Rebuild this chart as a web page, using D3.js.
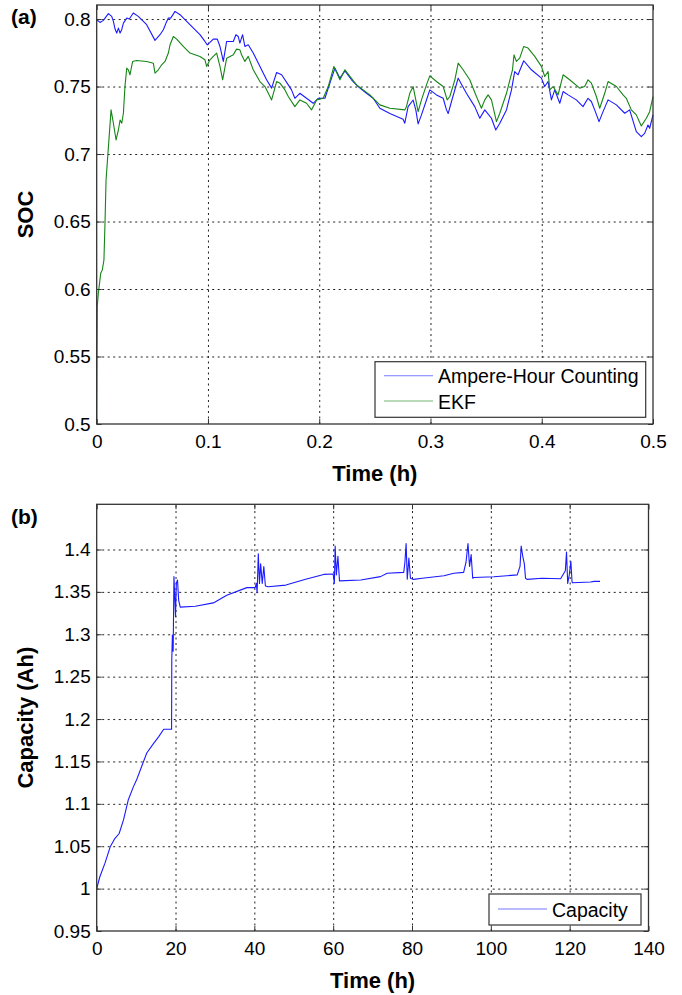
<!DOCTYPE html>
<html>
<head>
<meta charset="utf-8">
<script src="https://cdn.jsdelivr.net/npm/d3@7/dist/d3.min.js"></script>
<style>
  html, body { margin: 0; padding: 0; background: #fff; }
  svg { display: block; font-family: "Liberation Sans", Arial, Helvetica, sans-serif; }
  .grid line { stroke: #222; stroke-dasharray: 2,3.5; stroke-width: 1; }
  .grid path { display: none; }
  .ax path { display: none; }
  .ax line { stroke: #333; }
</style>
</head>
<body>
<svg id="fig" width="682" height="995"></svg>
<script>
// ---- panel (a): SOC estimation ----
const socTicksX = [0, 0.1, 0.2, 0.3, 0.4, 0.5];
const socTicksY = [0.5, 0.55, 0.6, 0.65, 0.7, 0.75, 0.8];

const ahTime = [0,0.003,0.006,0.0105,0.0135,0.015,0.0165,0.018,0.0195,0.021,0.0225,0.024,0.027,0.0293,0.0329,0.0374,0.0449,0.0524,0.0569,0.0599,0.0623,0.0644,0.0665,0.0704,0.0749,0.0838,0.0928,0.0973,0.0994,0.1018,0.1048,0.1084,0.1108,0.1138,0.1168,0.1228,0.1251,0.1272,0.1287,0.1311,0.1332,0.1362,0.1407,0.1482,0.1527,0.1572,0.1617,0.1662,0.1722,0.1751,0.1781,0.1826,0.1886,0.1946,0.1991,0.2051,0.2096,0.2141,0.2186,0.2231,0.229,0.235,0.2425,0.2485,0.2545,0.2635,0.2754,0.2769,0.2799,0.2844,0.2868,0.2889,0.2919,0.2964,0.2994,0.3054,0.3114,0.3144,0.3159,0.3189,0.3249,0.3323,0.3398,0.3443,0.3488,0.3548,0.3587,0.3623,0.3683,0.3728,0.3757,0.3787,0.3838,0.3907,0.3997,0.4027,0.4057,0.4087,0.4117,0.4162,0.4192,0.4237,0.4311,0.4371,0.4416,0.4446,0.4476,0.4515,0.4551,0.4596,0.4671,0.4746,0.479,0.485,0.4895,0.4925,0.4955,0.497,0.5];
const ahSoc = [0.7995,0.7975,0.799,0.804,0.802,0.7983,0.7926,0.7896,0.7933,0.7896,0.7921,0.797,0.8007,0.8,0.8045,0.802,0.7958,0.7842,0.7884,0.7921,0.797,0.8007,0.8007,0.8057,0.8032,0.7958,0.7884,0.7834,0.7809,0.7827,0.7851,0.7851,0.7797,0.7686,0.7834,0.7834,0.7884,0.7871,0.7822,0.7884,0.7797,0.7809,0.7748,0.7624,0.755,0.7488,0.7604,0.7587,0.7512,0.7475,0.7413,0.745,0.7413,0.7376,0.7413,0.7413,0.7525,0.7636,0.7562,0.7616,0.755,0.75,0.745,0.7413,0.7339,0.73,0.7257,0.7228,0.7351,0.74,0.7327,0.7223,0.729,0.74,0.7475,0.7438,0.7413,0.7327,0.73,0.7389,0.7562,0.745,0.7351,0.7265,0.7327,0.7265,0.7178,0.7228,0.7327,0.7475,0.7611,0.7587,0.7691,0.7624,0.7562,0.75,0.7537,0.7401,0.7475,0.7376,0.7463,0.7438,0.7401,0.7351,0.7413,0.7389,0.7327,0.724,0.7314,0.7401,0.7364,0.7302,0.7327,0.7166,0.7129,0.7153,0.7215,0.7191,0.729];

const ekfTime = [0,0.0002,0.0005,0.0015,0.0036,0.005,0.0065,0.0075,0.0084,0.0114,0.0129,0.015,0.0174,0.0195,0.021,0.0225,0.024,0.0254,0.027,0.0284,0.0299,0.0323,0.0359,0.0449,0.0509,0.0524,0.0554,0.0584,0.0614,0.0644,0.0659,0.0689,0.0719,0.0778,0.0838,0.0928,0.0973,0.0988,0.1018,0.1048,0.1078,0.1108,0.1132,0.1168,0.1228,0.1257,0.1287,0.1302,0.1332,0.1362,0.1407,0.1467,0.1512,0.1557,0.1572,0.1617,0.1647,0.1692,0.1722,0.1781,0.1826,0.1886,0.1931,0.1976,0.2036,0.2081,0.2132,0.2186,0.2231,0.2335,0.2455,0.2545,0.2635,0.2769,0.2784,0.2814,0.2844,0.2859,0.2889,0.2919,0.2964,0.2994,0.3054,0.3114,0.315,0.3174,0.3219,0.3249,0.3293,0.3353,0.3413,0.3458,0.3488,0.3518,0.3548,0.3593,0.3623,0.3683,0.3737,0.3751,0.3772,0.3802,0.3838,0.3877,0.3937,0.3997,0.4027,0.4057,0.4072,0.4102,0.4147,0.4192,0.4251,0.4341,0.4386,0.4416,0.4446,0.4491,0.4521,0.4566,0.4596,0.4671,0.4731,0.476,0.4805,0.485,0.4895,0.494,0.497,0.5];
const ekfSoc = [0.5,0.547,0.587,0.597,0.6116,0.614,0.6215,0.65,0.6807,0.7153,0.7327,0.7228,0.7104,0.7178,0.7252,0.7228,0.7302,0.75,0.7636,0.7624,0.7587,0.7686,0.7693,0.7686,0.7673,0.7599,0.7624,0.7661,0.7686,0.7748,0.7809,0.7871,0.7851,0.7797,0.7748,0.7723,0.7698,0.7649,0.7698,0.7723,0.7748,0.7649,0.755,0.771,0.7735,0.7777,0.7772,0.7735,0.7686,0.7723,0.7624,0.7537,0.75,0.7426,0.7401,0.7537,0.7525,0.7475,0.7426,0.7351,0.7401,0.7376,0.7327,0.7401,0.7413,0.75,0.7649,0.755,0.7624,0.7512,0.7438,0.7364,0.7339,0.7327,0.7351,0.745,0.75,0.7438,0.7314,0.7401,0.7512,0.7579,0.7537,0.75,0.7401,0.7426,0.755,0.7673,0.7624,0.755,0.7426,0.7339,0.7401,0.7438,0.7401,0.724,0.7302,0.745,0.7624,0.7735,0.7686,0.771,0.7797,0.7785,0.7723,0.7649,0.7574,0.7611,0.7475,0.75,0.7438,0.7587,0.755,0.7488,0.75,0.755,0.7525,0.7426,0.7339,0.745,0.7537,0.75,0.7438,0.7413,0.7327,0.729,0.7208,0.7265,0.7314,0.7426];

// ---- panel (b): capacity estimation ----
const capTicksX = [0, 20, 40, 60, 80, 100, 120, 140];
const capTicksY = [0.95, 1, 1.05, 1.1, 1.15, 1.2, 1.25, 1.3, 1.35, 1.4];
const capTime = [0,0.8,2.1,3.4,4.6,5.7,6.8,8.0,9.3,10.1,11.4,12.7,14.4,15.7,17.0,19.0,19.05,19.2,19.4,19.6,19.8,20.0,20.2,20.5,20.8,21.2,25,29.6,33.0,38.1,40.2,40.5,40.7,41.0,41.3,41.6,42.0,42.4,42.8,43.5,48,53,57.6,60.0,60.3,60.5,60.8,61.2,61.6,67,72,73.7,77.9,78.2,78.5,78.8,79.2,79.6,80.4,82.6,88.1,90.6,93.1,93.7,94.2,94.6,95.0,95.4,95.7,100.8,106.7,107.4,107.7,108.1,108.5,108.8,109.2,113,117.7,118.9,119.2,119.5,119.9,120.3,120.6,120.7,125.3,126.2,127.7];
const capAh = [1.0,1.014,1.03,1.049,1.059,1.065,1.081,1.1045,1.12,1.128,1.144,1.16,1.171,1.179,1.188,1.188,1.27,1.299,1.28,1.368,1.345,1.3207,1.36,1.364,1.34,1.332,1.333,1.337,1.346,1.355,1.355,1.36,1.349,1.395,1.36,1.383,1.36,1.38,1.357,1.356,1.358,1.365,1.3706,1.371,1.36,1.404,1.37,1.392,1.363,1.364,1.368,1.372,1.373,1.385,1.407,1.365,1.39,1.366,1.3647,1.366,1.369,1.372,1.373,1.385,1.407,1.38,1.394,1.366,1.367,1.3678,1.37,1.38,1.404,1.392,1.383,1.366,1.3647,1.366,1.3655,1.375,1.397,1.36,1.37,1.386,1.362,1.3608,1.3616,1.3624,1.3624];

const svg = d3.select('#fig');
svg.append('rect').attr('width', 682).attr('height', 995).attr('fill', '#fff');

function panel(opt) {
    const g = svg.append('g');
    const x = d3.scaleLinear().domain(opt.xDomain).range([opt.left, opt.right]);
    const y = d3.scaleLinear().domain(opt.yDomain).range([opt.bottom, opt.top]);
    const w = opt.right - opt.left, h = opt.bottom - opt.top;

    // dotted grid
    g.append('g').attr('class', 'grid')
        .attr('transform', `translate(0,${opt.bottom})`)
        .call(d3.axisBottom(x).tickValues(opt.xTicks.filter(v => v !== opt.xDomain[0] && v !== opt.xDomain[1])).tickSize(-h).tickFormat(''));
    g.append('g').attr('class', 'grid')
        .attr('transform', `translate(${opt.left},0)`)
        .call(d3.axisLeft(y).tickValues(opt.yTicks.filter(v => v !== opt.yDomain[0])).tickSize(-w).tickFormat(''));

    // curves
    opt.series.forEach(s => {
        const pts = s.t.map((t, i) => [t, s.v[i]]);
        g.append('path')
            .datum(pts)
            .attr('fill', 'none')
            .attr('stroke', s.color)
            .attr('stroke-width', 1.1)
            .attr('stroke-linejoin', 'round')
            .attr('d', d3.line().x(d => x(d[0])).y(d => y(d[1])));
    });

    // axes with inward ticks on all four sides
    const tfmt = opt.fmt;
    g.append('g').attr('class', 'ax')
        .attr('transform', `translate(0,${opt.bottom})`)
        .call(d3.axisBottom(x).tickValues(opt.xTicks).tickSizeInner(-5).tickSizeOuter(0).tickPadding(10.5).tickFormat(d3.format('')))
        .call(a => a.selectAll('text').attr('font-size', 19).attr('fill', '#000').style('font-family', 'inherit'));
    g.append('g').attr('class', 'ax')
        .attr('transform', `translate(0,${opt.top})`)
        .call(d3.axisTop(x).tickValues(opt.xTicks).tickSizeInner(-5).tickSizeOuter(0).tickFormat(''));
    g.append('g').attr('class', 'ax')
        .attr('transform', `translate(${opt.left},0)`)
        .call(d3.axisLeft(y).tickValues(opt.yTicks).tickSizeInner(-5).tickSizeOuter(0).tickPadding(6).tickFormat(tfmt))
        .call(a => a.selectAll('text').attr('font-size', 19).attr('fill', '#000').style('font-family', 'inherit'));
    g.append('g').attr('class', 'ax')
        .attr('transform', `translate(${opt.right},0)`)
        .call(d3.axisRight(y).tickValues(opt.yTicks).tickSizeInner(-5).tickSizeOuter(0).tickFormat(''));

    g.append('rect')
        .attr('x', opt.left).attr('y', opt.top).attr('width', w).attr('height', h)
        .attr('fill', 'none').attr('stroke', '#333').attr('stroke-width', 1.3);

    // titles
    g.append('text')
        .attr('x', (opt.left + opt.right) / 2).attr('y', opt.bottom + 57)
        .attr('text-anchor', 'middle').attr('font-size', 22).attr('font-weight', 'bold')
        .text(opt.xLabel);
    g.append('text')
        .attr('transform', `translate(33,${(opt.top + opt.bottom) / 2}) rotate(-90)`)
        .attr('text-anchor', 'middle').attr('font-size', 22).attr('font-weight', 'bold')
        .text(opt.yLabel);
    g.append('text')
        .attr('x', 11).attr('y', opt.top + opt.tagDy)
        .attr('font-size', 21).attr('font-weight', 'bold')
        .text(opt.tag);

    // legend
    const L = opt.legend;
    g.append('rect')
        .attr('x', L.x).attr('y', L.y).attr('width', L.w).attr('height', L.h)
        .attr('fill', '#fff').attr('stroke', '#333').attr('stroke-width', 1.2);
    opt.series.forEach((s, i) => {
        const cy = L.y + L.rowTop + i * L.rowH;
        g.append('line')
            .attr('x1', L.x + 9).attr('x2', L.x + 58).attr('y1', cy).attr('y2', cy)
            .attr('stroke', s.color).attr('stroke-opacity', 0.6).attr('stroke-width', 1.1);
        g.append('text')
            .attr('x', L.x + 63).attr('y', cy + 7.5)
            .attr('font-size', 19.5).text(s.name);
    });
}

panel({
    xDomain: [0, 0.5], yDomain: [0.5, 0.8104],
    left: 96.7, right: 653, top: 5, bottom: 424,
    xTicks: socTicksX, yTicks: socTicksY,
    fmt: d3.format(''),
    xLabel: 'Time (h)', yLabel: 'SOC', tag: '(a)', tagDy: 19,
    series: [
        {name: 'Ampere-Hour Counting', t: ahTime, v: ahSoc, color: '#1a1aff'},
        {name: 'EKF', t: ekfTime, v: ekfSoc, color: '#158515'}
    ],
    legend: {x: 375, y: 361.7, w: 270.7, h: 55.6, rowTop: 14, rowH: 25.3}
});

panel({
    xDomain: [0, 140], yDomain: [0.95, 1.4533],
    left: 96.7, right: 648.5, top: 504.3, bottom: 931,
    xTicks: capTicksX, yTicks: capTicksY,
    fmt: d3.format(''),
    xLabel: 'Time (h)', yLabel: 'Capacity (Ah)', tag: '(b)', tagDy: 20,
    series: [
        {name: 'Capacity', t: capTime, v: capAh, color: '#1a1aff'}
    ],
    legend: {x: 489, y: 894, w: 152, h: 31, rowTop: 15, rowH: 0}
});
</script>
</body>
</html>
